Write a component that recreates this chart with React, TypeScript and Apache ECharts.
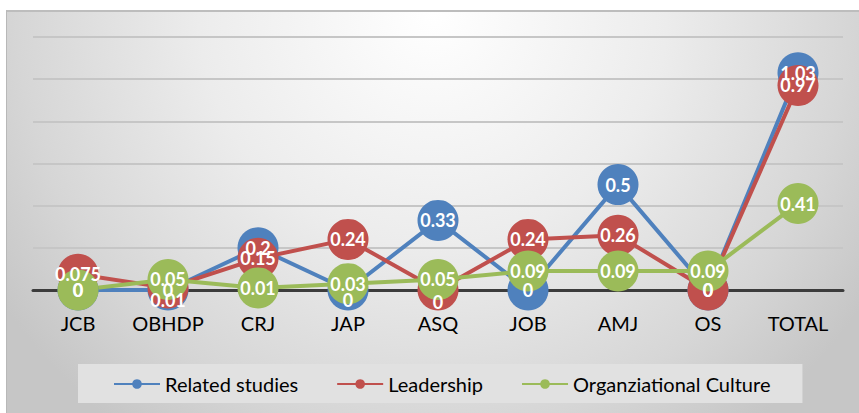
import React, { useEffect, useRef } from "react";
import * as echarts from "echarts";

const categories = ["JCB", "OBHDP", "CRJ", "JAP", "ASQ", "JOB", "AMJ", "OS", "TOTAL"];
const relatedStudies = [0, 0, 0.2, 0, 0.33, 0, 0.5, 0, 1.03];
const leadership = [0.075, 0.01, 0.15, 0.24, 0, 0.24, 0.26, 0, 0.97];
const orgCulture = [0, 0.05, 0.01, 0.03, 0.05, 0.09, 0.09, 0.09, 0.41];
const seriesNames = ["Related studies", "Leadership", "Organziational Culture"];

// label nudges (style only): category index -> vertical pixel offset
const labelNudges: Record<string, Record<number, number>> = {
  "Related studies": { 3: 10 },
  Leadership: { 1: 12, 4: 12 },
  "Organziational Culture": {},
};

const colors = ["#4f81bd", "#c0504d", "#9bbb59"];
const FONT = "Lato, 'Open Sans', sans-serif";

export default function App() {
  const ref = useRef<HTMLDivElement>(null);
  useEffect(() => {
    if (!ref.current) return;
    const chart = echarts.init(ref.current, null, { renderer: "svg" });
    const values = [relatedStudies, leadership, orgCulture];
    chart.setOption({
      animation: false,
      backgroundColor: "transparent",
      grid: { left: 33, right: 16, top: 37, bottom: 123, containLabel: false },
      legend: {
        left: 78,
        top: 364,
        backgroundColor: "#e1e1e1",
        padding: [10, 32, 9, 35],
        itemWidth: 46,
        itemHeight: 12,
        itemGap: 38,
        textStyle: { fontFamily: FONT, fontSize: 20, color: "#000" },
        data: seriesNames,
      },
      xAxis: {
        type: "category",
        data: categories,
        boundaryGap: true,
        axisLine: { lineStyle: { color: "#3c3c3c", width: 3 } },
        axisTick: { show: false },
        axisLabel: {
          interval: 0,
          hideOverlap: false,
          fontFamily: FONT,
          fontSize: 20,
          color: "#000",
          margin: 23,
        },
      },
      yAxis: {
        type: "value",
        min: 0,
        max: 1.2,
        interval: 0.2,
        axisLabel: { show: false },
        axisLine: { show: false },
        axisTick: { show: false },
        splitLine: { lineStyle: { color: "#c6c6c6", width: 2 } },
      },
      series: seriesNames.map((name, si) => ({
        name,
        type: "line",
        clip: false,
        symbol: "circle",
        symbolSize: 41,
        lineStyle: { width: 4, color: colors[si] },
        itemStyle: { color: colors[si] },
        emphasis: { disabled: true },
        label: {
          show: true,
          position: "inside",
          color: "#fff",
          fontWeight: "bold",
          fontSize: 18,
          fontFamily: FONT,
        },
        data: values[si].map((v, i) => {
          const n = labelNudges[name][i];
          return n ? { value: v, label: { offset: [0, n] } } : v;
        }),
      })),
    });
    return () => chart.dispose();
  }, []);

  return (
    <div style={{ position: "fixed", left: 0, top: 0, width: 859, height: 413, background: "#fff" }}>
      <div
        style={{
          position: "absolute",
          left: 6,
          top: 10,
          width: 853,
          height: 403,
          boxSizing: "border-box",
          borderTop: "2px solid #bdbdbd",
          borderLeft: "1px solid #b8b8b8",
          background:
            "radial-gradient(circle 520px at 50% 0%, #ffffff 0%, #ececec 45%, #d6d6d6 80%, #c6c6c6 100%)",
        }}
      />
      <div ref={ref} style={{ position: "absolute", left: 0, top: 0, width: 859, height: 413 }} />
    </div>
  );
}
